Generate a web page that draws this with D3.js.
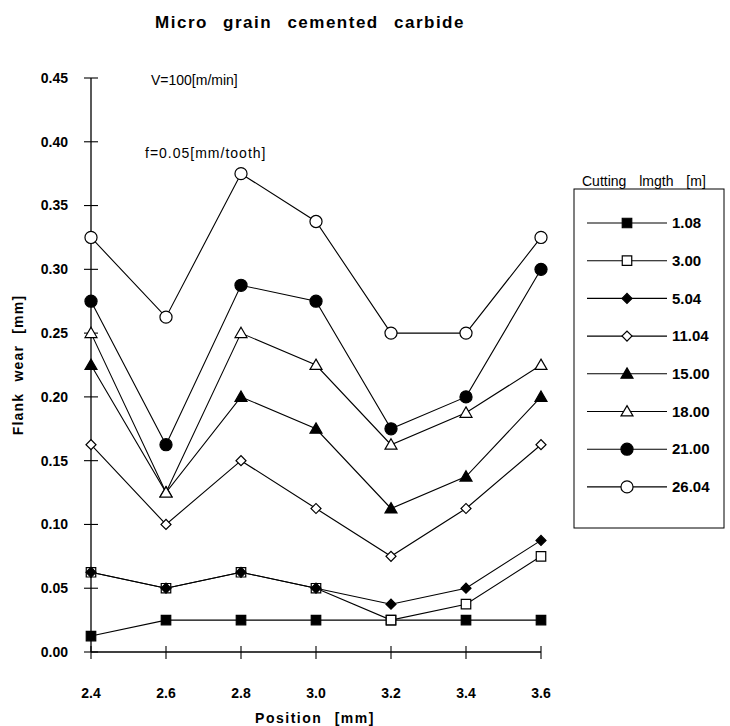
<!DOCTYPE html>
<html>
<head>
<meta charset="utf-8">
<script src="https://cdn.jsdelivr.net/npm/d3@7"></script>
<style>
  body { margin: 0; background: #fff; }
  text { font-family: "Liberation Sans", Arial, sans-serif; fill: #000; }
</style>
</head>
<body>
<div class="chart"></div>
<script>
// positions along the tool edge (x axis)
const positions = [2.4, 2.6, 2.8, 3.0, 3.2, 3.4, 3.6];
const xTicks = ["2.4", "2.6", "2.8", "3.0", "3.2", "3.4", "3.6"];
const yTicks = [0, 0.05, 0.1, 0.15, 0.2, 0.25, 0.3, 0.35, 0.4, 0.45];

// cutting length legend labels
const cuttingLengths = ["1.08", "3.00", "5.04", "11.04", "15.00", "18.00", "21.00", "26.04"];

// flank wear [mm] for each cutting length
const wear108 = [0.0125, 0.025, 0.025, 0.025, 0.025, 0.025, 0.025];
const wear300 = [0.0625, 0.05, 0.0625, 0.05, 0.025, 0.0375, 0.075];
const wear504 = [0.0625, 0.05, 0.0625, 0.05, 0.0375, 0.05, 0.0875];
const wear1104 = [0.1625, 0.1, 0.15, 0.1125, 0.075, 0.1125, 0.1625];
const wear1500 = [0.225, 0.125, 0.2, 0.175, 0.1125, 0.1375, 0.2];
const wear1800 = [0.25, 0.125, 0.25, 0.225, 0.1625, 0.1875, 0.225];
const wear2100 = [0.275, 0.1625, 0.2875, 0.275, 0.175, 0.2, 0.3];
const wear2604 = [0.325, 0.2625, 0.375, 0.3375, 0.25, 0.25, 0.325];

const allWear = [wear108, wear300, wear504, wear1104, wear1500, wear1800, wear2100, wear2604];

// marker style per series
const markers = [
  { shape: "square", fill: "#000" },
  { shape: "square", fill: "#fff" },
  { shape: "diamond", fill: "#000" },
  { shape: "diamond", fill: "#fff" },
  { shape: "triangle", fill: "#000" },
  { shape: "triangle", fill: "#fff" },
  { shape: "circle", fill: "#000" },
  { shape: "circle", fill: "#fff" },
];

const series = cuttingLengths.map((label, i) => ({
  label,
  values: positions.map((p, j) => ({ x: p, y: allWear[i][j] })),
  marker: markers[i],
}));

const margin = { top: 78, left: 91 },
  width = 450,
  height = 574;

const svg = d3
  .select(".chart")
  .append("svg")
  .attr("width", 730)
  .attr("height", 726);

const g = svg.append("g").attr("transform", `translate(${margin.left},${margin.top})`);

const x = d3.scaleLinear().domain([2.4, 3.6]).range([0, width]);
const y = d3.scaleLinear().domain([0, 0.45]).range([height, 0]);

function symbolPath(shape) {
  if (shape === "square") return d3.symbol(d3.symbolSquare, 90)();
  if (shape === "diamond") return d3.symbol(d3.symbolSquare, 50)();
  if (shape === "triangle") return d3.symbol(d3.symbolTriangle, 62)();
  return d3.symbol(d3.symbolCircle, 115)();
}

function addMarker(sel, m) {
  sel
    .append("path")
    .attr("d", symbolPath(m.shape))
    .attr("transform", (d) => (m.shape === "diamond" ? "rotate(45)" : m.shape === "triangle" ? "translate(0,1)" : null))
    .attr("fill", m.fill)
    .attr("stroke", "#000")
    .attr("stroke-width", 1.2);
}

// axes
g.append("line")
  .attr("x1", 0).attr("x2", 0)
  .attr("y1", 0).attr("y2", height)
  .attr("stroke", "#000").attr("stroke-width", 1.3);
g.append("line")
  .attr("x1", 0).attr("x2", width)
  .attr("y1", height).attr("y2", height)
  .attr("stroke", "#000").attr("stroke-width", 1.3);

const yAxis = g.selectAll(".ytick").data(yTicks).join("g")
  .attr("transform", (d) => `translate(0,${y(d)})`);
yAxis.append("line").attr("x1", -7).attr("x2", 7).attr("stroke", "#000").attr("stroke-width", 1.1);
yAxis.append("text")
  .attr("x", -23).attr("dy", "0.35em")
  .attr("text-anchor", "end")
  .style("font-size", "14px").style("font-weight", "bold")
  .text((d) => d.toFixed(2));

const xAxis = g.selectAll(".xtick").data(positions).join("g")
  .attr("transform", (d) => `translate(${x(d)},${height})`);
xAxis.append("line").attr("y1", -6).attr("y2", 7).attr("stroke", "#000").attr("stroke-width", 1.1);
xAxis.append("text")
  .attr("y", 46)
  .attr("text-anchor", "middle")
  .style("font-size", "14px").style("font-weight", "bold")
  .text((d, i) => xTicks[i]);

// lines
const line = d3.line().x((d) => x(d.x)).y((d) => y(d.y));
series.forEach((s) => {
  g.append("path")
    .datum(s.values)
    .attr("fill", "none")
    .attr("stroke", "#000")
    .attr("stroke-width", 1.1)
    .attr("d", line);
});

// markers
series.forEach((s) => {
  const pts = g.append("g").selectAll("g").data(s.values).join("g")
    .attr("transform", (d) => `translate(${x(d.x)},${y(d.y)})`);
  addMarker(pts, s.marker);
});

// title and labels
svg.append("text")
  .attr("x", 310).attr("y", 28)
  .attr("text-anchor", "middle")
  .style("font-size", "17px").style("font-weight", "bold")
  .style("letter-spacing", "1.5px").style("word-spacing", "9px")
  .text("Micro grain cemented carbide");

svg.append("text")
  .attr("x", 151).attr("y", 85)
  .style("font-size", "14px")
  .text("V=100[m/min]");

svg.append("text")
  .attr("x", 145).attr("y", 158)
  .style("font-size", "14px")
  .style("letter-spacing", "1px")
  .text("f=0.05[mm/tooth]");

svg.append("text")
  .attr("transform", "translate(23,365) rotate(-90)")
  .attr("text-anchor", "middle")
  .style("font-size", "14px").style("font-weight", "bold")
  .style("letter-spacing", "1.2px").style("word-spacing", "6px")
  .text("Flank wear [mm]");

svg.append("text")
  .attr("x", 315).attr("y", 723)
  .attr("text-anchor", "middle")
  .style("font-size", "14px").style("font-weight", "bold")
  .style("letter-spacing", "1.5px").style("word-spacing", "7px")
  .text("Position [mm]");

// legend
const legendTop = 223, legendSpacing = 37.7;
svg.append("text")
  .attr("x", 582).attr("y", 186)
  .style("font-size", "14px")
  .style("word-spacing", "9px")
  .text("Cutting lmgth [m]");

svg.append("rect")
  .attr("x", 574).attr("y", 189)
  .attr("width", 150).attr("height", 339)
  .attr("fill", "none").attr("stroke", "#000").attr("stroke-width", 1);

const legend = svg.selectAll(".legend").data(series).join("g")
  .attr("class", "legend")
  .attr("transform", (d, i) => `translate(0,${legendTop + i * legendSpacing})`);

legend.append("line")
  .attr("x1", 587).attr("x2", 667)
  .attr("stroke", "#000").attr("stroke-width", 1.1);

legend.each(function (d) {
  const m = d3.select(this).append("g").attr("transform", "translate(627,0)");
  addMarker(m, d.marker);
});

legend.append("text")
  .attr("x", 672).attr("dy", "0.35em")
  .style("font-size", "15px").style("font-weight", "bold")
  .text((d) => d.label);
</script>
</body>
</html>
